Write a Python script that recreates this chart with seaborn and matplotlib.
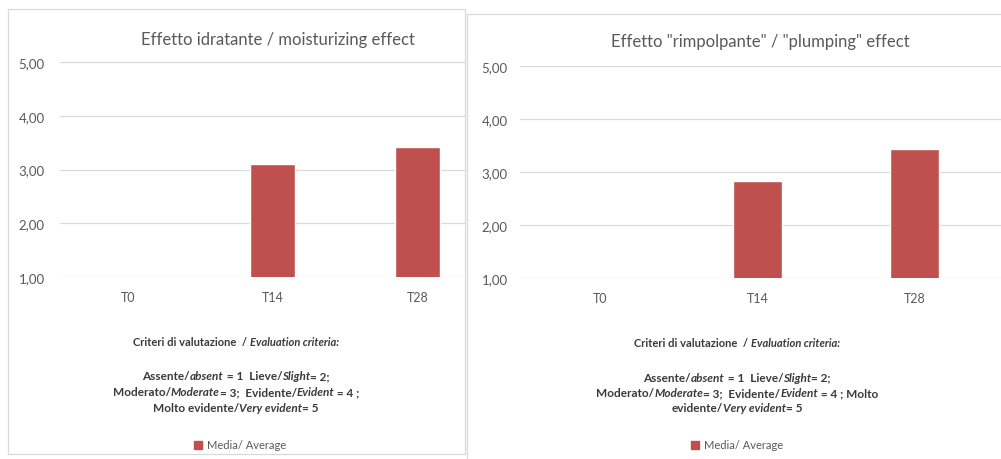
import matplotlib
matplotlib.use('Agg')
import matplotlib.pyplot as plt
import seaborn as sns
import pandas as pd
from matplotlib.patches import Patch, Rectangle

# data
timepoints = ['T0', 'T14', 'T28']
moisturizing = [1.00, 3.10, 3.42]
plumping = [1.00, 2.83, 3.43]
y_ticks = [1, 2, 3, 4, 5]
y_tick_labels = ['1,00', '2,00', '3,00', '4,00', '5,00']
titles = ['Effetto idratante / moisturizing effect',
          'Effetto "rimpolpante" / "plumping" effect']
legend_label = 'Media/ Average'
header = [('Criteri di valutazione  / ', False), ('Evaluation criteria:', True)]
criteria_left = [
    [('Assente/', False), ('absent', True), (' = 1  Lieve/', False), ('Slight', True), ('= 2;', False)],
    [('Moderato/', False), ('Moderate', True), ('= 3;  Evidente/', False), ('Evident', True), (' = 4 ;', False)],
    [('Molto evidente/', False), ('Very evident', True), ('= 5', False)],
]
criteria_right = [
    [('Assente/', False), ('absent', True), (' = 1  Lieve/', False), ('Slight', True), ('= 2;', False)],
    [('Moderato/', False), ('Moderate', True), ('= 3;  Evidente/', False), ('Evident', True), (' = 4 ; Molto', False)],
    [('evidente/', False), ('Very evident', True), ('= 5', False)],
]

RED = '#C0504D'
GRID = '#D9D9D9'
GREY = '#595959'

sns.set_theme(style='white')
plt.rcParams['font.family'] = ['Lato', 'DejaVu Sans']

W, H = 1001, 460
fig = plt.figure(figsize=(W / 100, H / 100), dpi=100)


def px_axes(x0, y_top, x1, y_bot):
    return fig.add_axes([x0 / W, 1 - y_bot / H, (x1 - x0) / W, (y_bot - y_top) / H])


def centered_line(x, y, parts, size):
    # lay out mixed regular/italic pieces and centre the whole line on x
    texts = []
    for s, italic in parts:
        texts.append(fig.text(0, 1 - y / H, s, fontsize=size, fontweight='bold',
                              style='italic' if italic else 'normal',
                              va='center', ha='left', color='#3a3a3a'))
    fig.canvas.draw()
    r = fig.canvas.get_renderer()
    widths = [t.get_window_extent(r).width / fig.bbox.width for t in texts]
    start = x / W - sum(widths) / 2
    for t, w in zip(texts, widths):
        t.set_x(start)
        start += w


def draw_panel(ax, values, title, xlim, title_xy, ypad):
    df = pd.DataFrame({'time': timepoints, 'value': values})
    sns.barplot(data=df, x='time', y='value', color=RED, saturation=1,
                width=0.31, ax=ax)
    ax.set_ylim(1, 5)
    ax.set_xlim(*xlim)
    ax.set_yticks(y_ticks)
    ax.set_yticklabels(y_tick_labels)
    ax.set_xlabel('')
    ax.set_ylabel('')
    ax.yaxis.grid(True, color=GRID, lw=0.9)
    ax.set_axisbelow(True)
    sns.despine(ax=ax, left=True, bottom=True)
    ax.tick_params(axis='y', length=0, pad=ypad, labelsize=9.5, labelcolor=GREY)
    ax.tick_params(axis='x', length=0, pad=10, labelsize=9, labelcolor=GREY)
    fig.text(title_xy[0] / W, 1 - title_xy[1] / H, title, ha='center', va='center',
             fontsize=12, color=GREY)


ax1 = px_axes(60, 63, 465, 278)
ax2 = px_axes(520, 67, 1001, 279)
draw_panel(ax1, moisturizing, titles[0], (-0.47, 2.33), (278, 40), 11)
draw_panel(ax2, plumping, titles[1], (-0.51, 2.55), (760, 42), 9)

# chart area borders
fig.add_artist(Rectangle((8 / W, 1 - 455 / H), 457 / W, 445 / H, transform=fig.transFigure,
                         fill=False, ec=GRID, lw=0.9))
fig.add_artist(Rectangle((467 / W, -0.05), 0.6, 1 - 15 / H + 0.05, transform=fig.transFigure,
                         fill=False, ec=GRID, lw=0.9))

# evaluation criteria text
centered_line(236, 343, header, 8)
for i, line in enumerate(criteria_left):
    centered_line(236, 377 + i * 16, line, 8.5)
centered_line(737, 344, header, 8)
for i, line in enumerate(criteria_right):
    centered_line(737, 378 + i * 15.5, line, 8.5)

# legends
for cx in (240, 737):
    fig.legend(handles=[Patch(color=RED, label=legend_label)], loc='center',
               bbox_to_anchor=(cx / W, 1 - 446 / H), frameon=False, fontsize=8,
               handlelength=0.7, handleheight=0.7, handletextpad=0.4,
               labelcolor=GREY)

fig.savefig('out.png', dpi=100)
